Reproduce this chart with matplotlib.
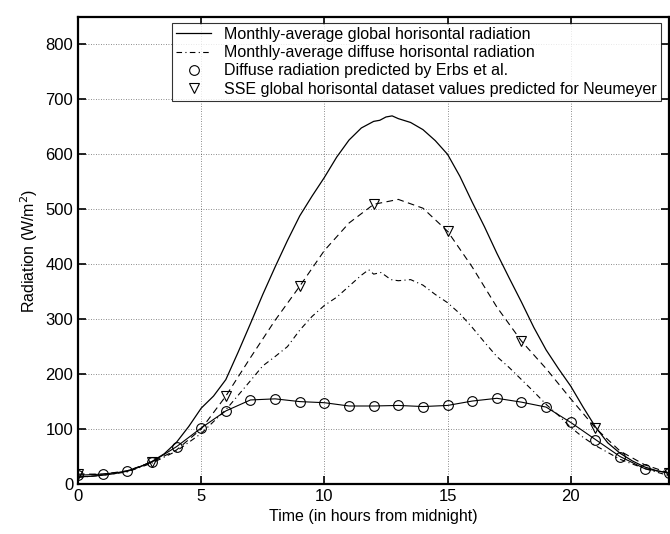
"""
Global and diffuse radiation over the day
"""

import matplotlib
matplotlib.use("Agg")
import matplotlib.pyplot as plt

plt.rcParams['font.family'] = ['Liberation Sans', 'DejaVu Sans']

# monthly-average global horizontal radiation (read every half hour)
t_glob = [0, 0.5, 1, 1.5, 2, 2.5, 3, 3.5, 4, 4.5, 5, 5.5, 6, 6.5, 7, 7.5, 8, 8.5,
          9, 9.5, 10, 10.5, 11, 11.5, 12, 12.25, 12.5, 12.75, 13, 13.5, 14, 14.5,
          15, 15.5, 16, 16.5, 17, 17.5, 18, 18.5, 19, 19.5, 20, 20.5, 21, 21.5,
          22, 22.5, 23, 23.5, 24]
glob = [13, 14, 16, 19, 24, 31, 41, 55, 76, 105, 138, 160, 190, 240, 292, 345, 395, 443,
        488, 524, 558, 595, 626, 648, 660, 662, 668, 670, 665, 658, 645, 625,
        600, 560, 513, 468, 420, 375, 331, 285, 244, 210, 178, 140, 104, 75,
        56, 42, 31, 24, 20]

# monthly-average diffuse horizontal radiation
t_diff = [0, 1, 2, 3, 4, 5, 6, 7, 7.5, 8, 8.5, 9, 9.5, 10, 10.5, 11, 11.5, 11.8,
          12, 12.3, 12.7, 13, 13.5, 14, 14.5, 15, 15.5, 16, 16.5, 17, 17.5, 18,
          18.5, 19, 19.5, 20, 20.5, 21, 22, 23, 24]
diff = [12, 16, 22, 38, 60, 92, 135, 188, 215, 232, 250, 280, 305, 325, 340, 360, 380, 390,
        382, 385, 372, 370, 372, 362, 345, 330, 310, 285, 258, 232, 212, 190,
        168, 145, 125, 103, 85, 70, 45, 28, 15]

# Erbs et al. diffuse prediction (hourly)
hours = list(range(25))
erbs = [16, 18, 23, 40, 68, 102, 133, 153, 155, 150, 148, 142, 142, 143, 141, 143,
        151, 156, 149, 140, 112, 81, 50, 28, 20]

# SSE global horizontal curve and its 3-hourly values
sse_curve = [18, 18, 24, 40, 62, 100, 160, 230, 298, 360, 425, 475, 509, 518, 502, 460,
             395, 322, 260, 210, 155, 102, 60, 35, 20]
t_sse = [0, 3, 6, 9, 12, 15, 18, 21, 24]
sse = [18, 40, 160, 360, 510, 460, 260, 102, 20]

fig = plt.figure(figsize=(6.7, 5.34), dpi=100)
ax = fig.add_axes([0.1164, 0.0936, 0.8826, 0.8746])

ax.plot(t_glob, glob, '-', color='black', lw=0.9,
        label='Monthly-average global horisontal radiation')
ax.plot(t_diff, diff, '-.', color='black', lw=0.8, dashes=(5, 3, 1, 3),
        label='Monthly-average diffuse horisontal radiation')
ax.plot(hours, erbs, '-', color='black', lw=0.8)
ax.plot(hours, erbs, 'o', color='black', mfc='none', ms=7, mew=0.8,
        label='Diffuse radiation predicted by Erbs et al.')
ax.plot(hours, sse_curve, '--', color='black', lw=0.8, dashes=(6, 4))
ax.plot(t_sse, sse, 'v', color='black', mfc='none', ms=7, mew=0.8,
        label='SSE global horisontal dataset values predicted for Neumeyer')

ax.set_xlim(0, 24)
ax.set_ylim(0, 850)
ax.set_xticks([0, 5, 10, 15, 20])
ax.set_yticks(range(0, 801, 100))
ax.grid(True, linestyle=(0, (1, 2)), color='black', lw=0.6, alpha=0.6)
ax.tick_params(direction='in', length=6, width=1.2, labelsize=12,
               top=True, right=True)
for s in ax.spines.values():
    s.set_linewidth(1.6)

ax.set_xlabel('Time (in hours from midnight)', fontsize=11.5)
ax.set_ylabel('Radiation (W/m$^2$)', fontsize=11.5)

leg = ax.legend(loc='upper left', bbox_to_anchor=(0.159, 0.987), fontsize=11.5,
                frameon=True, fancybox=False, edgecolor='black', handlelength=2.2,
                handletextpad=0.8, borderpad=0.25, labelspacing=0.2, borderaxespad=0)
leg.get_frame().set_linewidth(0.8)

fig.savefig('out.png', dpi=100)
